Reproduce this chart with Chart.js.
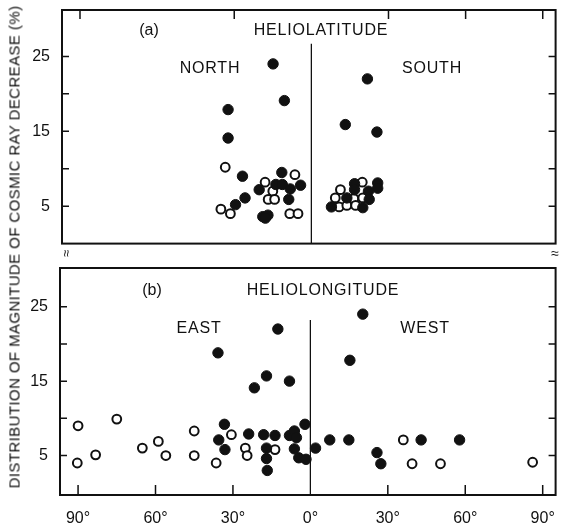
<!DOCTYPE html>
<html>
<head>
<meta charset="utf-8">
<script src="https://cdn.jsdelivr.net/npm/chart.js@4.4.0/dist/chart.umd.min.js"></script>
<style>
  body { margin: 0; background: #fff; width: 562px; height: 528px; overflow: hidden; position: relative;
         font-family: "Liberation Sans", Arial, sans-serif; color: #111; }
  .box { position: absolute; left: 0; width: 562px; }
  .c { position: absolute; transform: translate(-50%, -50%); white-space: nowrap; line-height: 1; font-size: 16px; }
  #ytitle { position: absolute; left: 14px; top: 247px; transform: translate(-50%, -50%) rotate(-90deg);
            font-size: 15px; white-space: nowrap; line-height: 1; letter-spacing: 0.4px; }
</style>
</head>
<body>
<div class="box" style="top:0;height:250px"><canvas id="latChart" width="562" height="250"></canvas></div>
<div class="box" style="top:258px;height:270px"><canvas id="lonChart" width="562" height="270"></canvas></div>

<div id="ytitle">DISTRIBUTION OF MAGNITUDE OF COSMIC RAY DECREASE (%)</div>
<div class="c" style="left:149px;top:30px">(a)</div>
<div class="c" style="left:321px;top:30px;letter-spacing:0.8px">HELIOLATITUDE</div>
<div class="c" style="left:210px;top:68px;letter-spacing:0.8px">NORTH</div>
<div class="c" style="left:432px;top:68px;letter-spacing:0.8px">SOUTH</div>
<div class="c" style="left:152px;top:290px">(b)</div>
<div class="c" style="left:323px;top:290px;letter-spacing:0.8px">HELIOLONGITUDE</div>
<div class="c" style="left:199px;top:328px;letter-spacing:0.8px">EAST</div>
<div class="c" style="left:425px;top:328px;letter-spacing:0.8px">WEST</div>
<div class="c" style="left:66px;top:253px;font-size:13px;transform:translate(-50%,-50%) rotate(90deg)">≈</div>
<div class="c" style="left:555px;top:253px;font-size:14px">≈</div>

<script>
// panel (a): heliolatitude
const latFilledX = [-14.9, -32.4, -32.4, -10.5, -26.8, -25.8, -29.5, -20.3, -18.9, -16.9, -17.9, -11.5, -13.8, -11.3, -8.2, -8.8, -4.2,
                    7.8, 13.2, 21.8, 25.5, 16.8, 16.8, 25.8, 25.8, 22.2, 22.5, 13.8, 20.0];
const latFilledY = [24.0, 17.9, 14.1, 19.1, 9.0, 6.1, 5.2, 7.2, 3.6, 3.8, 3.4, 9.5, 7.9, 7.9, 7.3, 5.9, 7.8,
                    4.9, 15.9, 22.0, 14.9, 8.0, 7.2, 8.1, 7.4, 7.0, 5.9, 6.1, 4.8];
const latOpenX = [-33.5, -35.2, -31.5, -18.0, -15.0, -16.8, -14.3, -8.4, -5.2, -6.4,
                  11.3, 9.3, 10.8, 19.8, 16.5, 13.8, 17.2, 20.0];
const latOpenY = [10.2, 4.6, 4.0, 8.2, 7.0, 5.9, 5.9, 4.0, 4.0, 9.2,
                  7.2, 6.1, 4.9, 8.2, 6.0, 5.1, 5.1, 6.1];

// panel (b): heliolongitude
const lonFilledX = [-35.8, -12.6, -17.0, -21.7, -8.1, 15.3, 20.3, -33.3, -35.5, -33.1, -23.9, -18.1, -17.0, -17.0, -16.7,
                    -13.7, -8.1, -6.2, -5.4, -6.2, -4.5, -1.7, -2.1, 2.0, 7.5, 14.9, 25.8, 27.3, 42.9, 57.8];
const lonFilledY = [18.8, 22.0, 15.7, 14.1, 15.0, 17.8, 24.0, 9.2, 7.1, 5.8, 7.9, 7.8, 6.0, 4.6, 3.0,
                    7.7, 7.7, 8.3, 7.4, 5.9, 4.7, 4.5, 9.2, 6.0, 7.1, 7.1, 5.4, 3.9, 7.1, 7.1];
const lonOpenX = [-90.0, -90.3, -83.2, -75.0, -65.1, -58.9, -56.0, -45.0, -45.0, -36.5, -30.6, -25.2, -24.5, -13.7,
                  36.0, 39.4, 50.4, 86.1];
const lonOpenY = [9.0, 4.0, 5.1, 9.9, 6.0, 6.9, 5.0, 8.3, 5.0, 4.0, 7.8, 6.0, 5.0, 5.8,
                  7.1, 3.9, 3.9, 4.1];

const xTicks = [-90, -60, -30, 0, 30, 60, 90];
const yLabels = [5, 15, 25];
const yMarks = [5, 10, 15, 20, 25];

const X_MIN = -97, X_MAX = 95;
const INK = "#111";

const pts = (xs, ys) => xs.map((x, i) => ({ x: x, y: ys[i] }));

const framePlugin = {
  id: "frame",
  afterDraw(chart, args, o) {
    const { ctx, chartArea: a, scales: { x, y } } = chart;
    ctx.save();
    ctx.strokeStyle = INK;
    ctx.lineWidth = 2;
    ctx.strokeRect(a.left, a.top, a.right - a.left, a.bottom - a.top);
    ctx.lineWidth = 1.5;
    ctx.beginPath();
    yMarks.forEach(v => {
      const py = y.getPixelForValue(v);
      ctx.moveTo(a.left, py); ctx.lineTo(a.left + 7, py);
      ctx.moveTo(a.right, py); ctx.lineTo(a.right - 7, py);
    });
    o.top.forEach(v => {
      const px = x.getPixelForValue(v);
      ctx.moveTo(px, a.top); ctx.lineTo(px, a.top + 9);
    });
    o.bottom.forEach(v => {
      const px = x.getPixelForValue(v);
      ctx.moveTo(px, a.bottom); ctx.lineTo(px, a.bottom - 10);
    });
    ctx.stroke();
    ctx.restore();
  }
};

function makeChart(id, filled, open, yMax, yMin, lineTop, showX, axisW, pad, marks) {
  return new Chart(document.getElementById(id), {
    type: "scatter",
    data: {
      datasets: [
        { data: filled, backgroundColor: INK, borderColor: INK, borderWidth: 1, pointRadius: 5.2, order: 1 },
        { data: open, backgroundColor: "#fff", borderColor: INK, borderWidth: 2, pointRadius: 4.4, order: 2 },
        { data: [{ x: 0, y: lineTop }, { x: 0, y: yMin }], showLine: true, borderColor: INK, borderWidth: 1.3,
          pointRadius: 0, order: 3 }
      ]
    },
    options: {
      responsive: false,
      animation: false,
      devicePixelRatio: 1,
      layout: { padding: pad },
      plugins: { legend: { display: false }, tooltip: { enabled: false }, frame: marks },
      scales: {
        x: {
          type: "linear", min: X_MIN, max: X_MAX, display: showX,
          grid: { display: false, drawTicks: false }, border: { display: false },
          afterBuildTicks: s => { s.ticks = xTicks.map(v => ({ value: v })); },
          afterFit: s => { s.height = showX ? 33 : 0; s.paddingLeft = 0; s.paddingRight = 0; },
          ticks: { padding: 14, autoSkip: false, maxRotation: 0, color: INK,
                   font: { family: "Liberation Sans", size: 16 },
                   callback: v => Math.abs(v) + "°" }
        },
        y: {
          type: "linear", min: yMin, max: yMax,
          grid: { display: false, drawTicks: false }, border: { display: false },
          afterBuildTicks: s => { s.ticks = yLabels.map(v => ({ value: v })); },
          afterFit: s => { s.width = axisW; s.paddingTop = 0; s.paddingBottom = 0; },
          ticks: { padding: 12, color: INK, font: { family: "Liberation Sans", size: 16 } }
        }
      }
    },
    plugins: [framePlugin]
  });
}

makeChart("latChart", pts(latFilledX, latFilledY), pts(latOpenX, latOpenY), 31.2, 0, 26.7, false, 62,
  { top: 10, right: 1, bottom: 6, left: 0 }, { top: [-90, -30, 30, 60, 90], bottom: [] });

makeChart("lonChart", pts(lonFilledX, lonFilledY), pts(lonOpenX, lonOpenY), 30.2, -0.3, 23.2, true, 60,
  { top: 10, right: 1, bottom: 0, left: 0 }, { top: [], bottom: [-90, -60, -30, 30, 60, 90] });
</script>
</body>
</html>
